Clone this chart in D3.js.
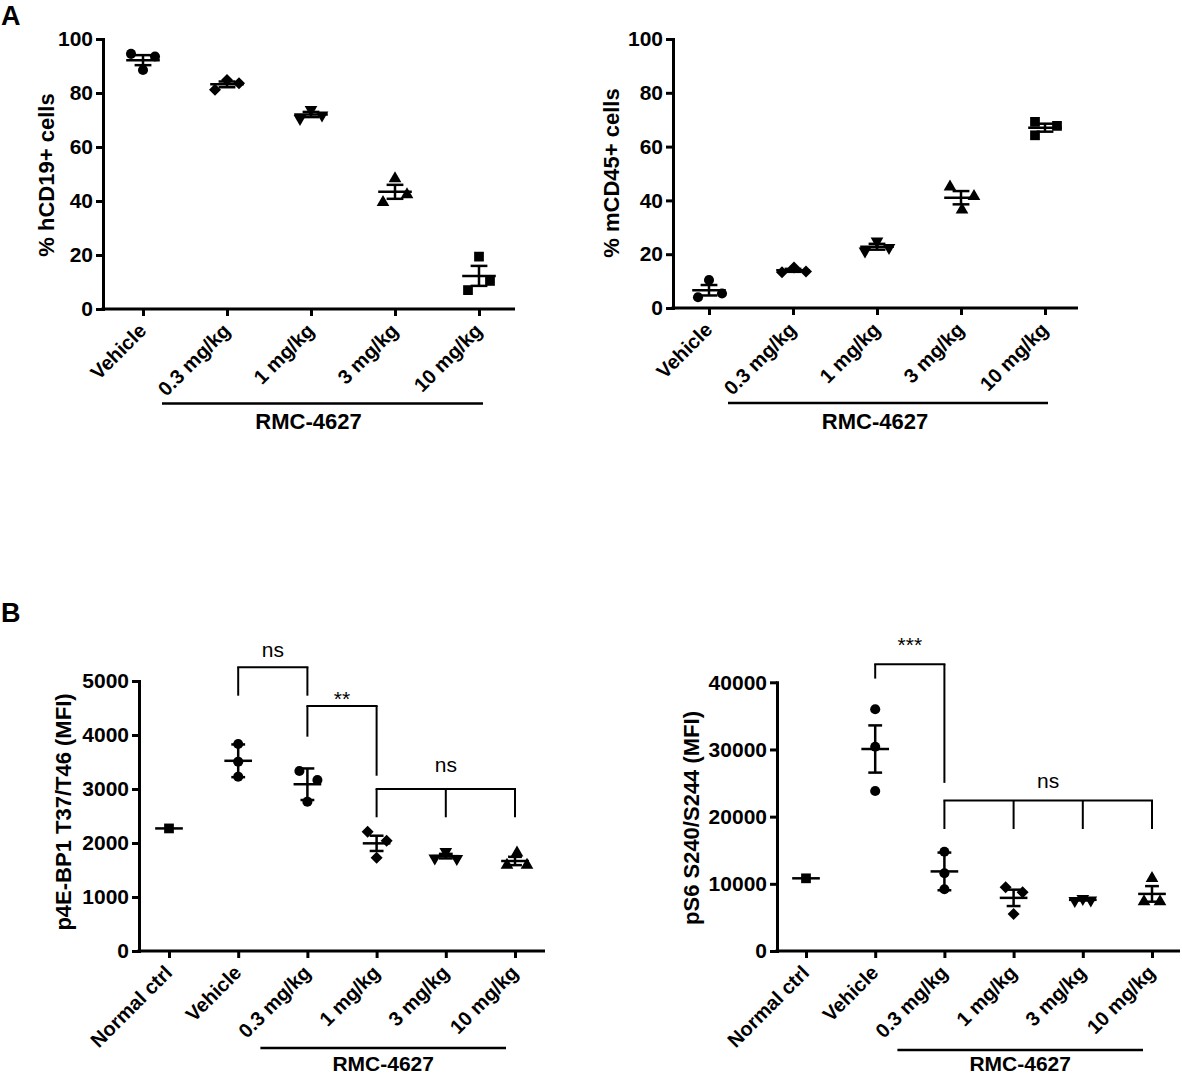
<!DOCTYPE html>
<html>
<head>
<meta charset="utf-8">
<script src="https://cdn.jsdelivr.net/npm/d3@7.9.0/dist/d3.min.js"></script>
<style>
  body { margin: 0; background: #fff; }
  svg { display: block; font-family: "Liberation Sans", Arial, Helvetica, sans-serif; }
</style>
</head>
<body>
<div id="viz"></div>
<script>
// ---- data ----
const groupsA = ["Vehicle", "0.3 mg/kg", "1 mg/kg", "3 mg/kg", "10 mg/kg"];
const groupsB = ["Normal ctrl", "Vehicle", "0.3 mg/kg", "1 mg/kg", "3 mg/kg", "10 mg/kg"];

// % hCD19+ cells, 3 mice per group
const hcd19 = [[94.5, 93.5, 88.5], [81.2, 84.8, 83.6], [70.5, 73.8, 71.8], [48.3, 39.5, 42.4], [19.4, 7.0, 10.4]];
// % mCD45+ cells
const mcd45 = [[10.4, 4.0, 5.4], [13.3, 15.1, 13.6], [24.8, 21.1, 22.4], [45.0, 36.5, 41.5], [69.2, 64.2, 67.7]];
// p4E-BP1 T37/T46 (MFI)
const p4ebp1 = [[2270], [3833, 3506, 3228], [3333, 3167, 2765], [2210, 2043, 1728], [1840, 1720, 1710], [1820, 1590, 1590]];
// pS6 S240/S244 (MFI)
const ps6 = [[10820], [35980, 30410, 23820], [14780, 11570, 9190], [9480, 8740, 5510], [7500, 7800, 7550], [10820, 7340, 7340]];

const ticksA = [0, 20, 40, 60, 80, 100];
const ticksB1 = [0, 1000, 2000, 3000, 4000, 5000];
const ticksB2 = [0, 10000, 20000, 30000, 40000];

// error bar kind per group
const errA = ["sem", "sem", "sem", "sem", "sem"];
const errB1 = ["none", "sd", "sd", "sem", "sem", "sem"];
const errB2 = ["none", "sem", "sd", "sem", "sem", "sem"];

// significance brackets (group indices + heights in data units)
const bracketsB1 = [
  { legs: [1, 2], top: 5254, ends: [4728, 4728], label: "ns", labelY: 5450 },
  { legs: [2, 3], top: 4537, ends: [3969, 3246], label: "**", labelY: 4540 },
  { legs: [3, 4, 5], top: 3000, ends: [2476, 2476, 2476], label: "ns", labelY: 3320 }
];
const bracketsB2 = [
  { legs: [1, 2], top: 42690, ends: [40550, 25030], label: "***", labelY: 44570 },
  { legs: [2, 3, 4, 5], top: 22390, ends: [18160, 18160, 18160, 18160], label: "ns", labelY: 24330 }
];

// ---- layout / style ----
const symbolsA = ["circle", "diamond", "triangleDown", "triangle", "square"];
const symbolsB = ["square", "circle", "circle", "diamond", "triangleDown", "triangle"];

// horizontal spread of overlapping points (px)
const jitterA1 = [[-12, 12, 0], [-12, 0, 12], [-11, 0, 11], [0, -12, 12], [0, -11, 11]];
const jitterA2 = [[0, -11, 13], [-11, 1, 13], [0, -12, 12], [-11, 1, 13], [-10, -10, 12]];
const jitterB1 = [[0], [0, 0, 0], [-8, 10, 0], [-9, 10, 0], [0, -11, 11], [2, -8, 12]];
const jitterB2 = [[0], [0, 0, 0], [0, 0, 0], [-8, 9, 0], [-8, 0, 8], [0, -8, 8]];

const symbolTypes = {
  circle: d3.symbolCircle, square: d3.symbolSquare, diamond: d3.symbolSquare,
  triangle: d3.symbolTriangle, triangleDown: d3.symbolTriangle
};
const symbolSizes = { circle: 80, square: 95, diamond: 72, triangle: 70, triangleDown: 70 };
const symbolRotate = { diamond: 45, triangleDown: 180 };

const svg = d3.select("#viz")
  .append("svg")
  .attr("width", 1182)
  .attr("height", 1077);

svg.append("rect").attr("width", 1182).attr("height", 1077).attr("fill", "#fff");

function errorOf(values, type) {
  if (type === "none" || values.length < 2) return 0;
  const sd = d3.deviation(values);
  return type === "sd" ? sd : sd / Math.sqrt(values.length);
}

function renderPanel(p) {
  const g = svg.append("g");
  const x = d3.scalePoint().domain(p.groups).range([p.firstTick, p.lastTick]);
  const y = d3.scaleLinear().domain([0, p.yMax]).range([p.y0, p.yTop]);
  const step = x.step();

  // y axis
  const yAxis = g.append("g")
    .attr("transform", `translate(${p.axisX},0)`)
    .call(d3.axisLeft(y).tickValues(p.yTicks).tickFormat(d3.format("d"))
      .tickSize(7).tickSizeOuter(0).tickPadding(3));
  yAxis.select(".domain").attr("stroke-width", 3).attr("stroke-linecap", "square");
  yAxis.selectAll(".tick line").attr("stroke-width", 3);
  yAxis.selectAll(".tick text")
    .attr("font-size", 21).attr("font-weight", "bold")
    .attr("font-family", "Liberation Sans, Arial, sans-serif").attr("fill", "#000");

  // x axis
  const xAxis = g.append("g")
    .attr("transform", `translate(0,${p.y0})`)
    .call(d3.axisBottom(x).tickSize(7).tickSizeOuter(0));
  xAxis.select(".domain").remove();
  xAxis.append("line")
    .attr("x1", p.axisX - 1.5).attr("x2", p.xEnd)
    .attr("stroke", "#000").attr("stroke-width", 3);
  xAxis.selectAll(".tick line").attr("stroke-width", 3);
  xAxis.selectAll(".tick text")
    .attr("y", null).attr("dy", null)
    .attr("text-anchor", "end")
    .attr("transform", "translate(4,23) rotate(-45)")
    .attr("font-size", 20).attr("font-weight", "bold")
    .attr("font-family", "Liberation Sans, Arial, sans-serif").attr("fill", "#000");

  // y title
  g.append("text")
    .attr("transform", `translate(${p.titleX},${p.titleY}) rotate(-90)`)
    .attr("text-anchor", "middle")
    .attr("dominant-baseline", "central")
    .attr("font-size", 22).attr("font-weight", "bold")
    .text(p.title);

  // points
  p.values.forEach((vals, i) => {
    const name = p.symbols[i];
    const sym = d3.symbol().type(symbolTypes[name]).size(symbolSizes[name]);
    g.selectAll(null)
      .data(vals)
      .join("path")
      .attr("d", sym)
      .attr("fill", "#000")
      .attr("transform", (d, j) =>
        `translate(${x(p.groups[i]) + p.jitter[i][j]},${y(d)}) rotate(${symbolRotate[name] || 0})`);
  });

  // mean and error bars
  p.values.forEach((vals, i) => {
    const cx = x(p.groups[i]);
    const m = d3.mean(vals);
    const e = errorOf(vals, p.err[i]);
    const bars = g.append("g").attr("stroke", "#000").attr("stroke-width", 2.5);
    bars.append("line")
      .attr("x1", cx - 0.2 * step).attr("x2", cx + 0.2 * step)
      .attr("y1", y(m)).attr("y2", y(m));
    if (e > 0) {
      bars.append("line").attr("x1", cx).attr("x2", cx).attr("y1", y(m - e)).attr("y2", y(m + e));
      [m - e, m + e].forEach(v => {
        bars.append("line")
          .attr("x1", cx - 0.1 * step).attr("x2", cx + 0.1 * step)
          .attr("y1", y(v)).attr("y2", y(v));
      });
    }
  });

  // significance brackets
  (p.brackets || []).forEach(b => {
    const xs = b.legs.map(k => x(p.groups[k]));
    const bg = g.append("g").attr("stroke", "#000").attr("stroke-width", 2).attr("fill", "none");
    bg.append("line")
      .attr("x1", xs[0] - 1).attr("x2", xs[xs.length - 1] + 1)
      .attr("y1", y(b.top)).attr("y2", y(b.top));
    xs.forEach((lx, k) => {
      bg.append("line").attr("x1", lx).attr("x2", lx).attr("y1", y(b.top)).attr("y2", y(b.ends[k]));
    });
    g.append("text")
      .attr("x", (xs[0] + xs[xs.length - 1]) / 2)
      .attr("y", y(b.labelY))
      .attr("text-anchor", "middle")
      .attr("font-size", 21)
      .text(b.label);
  });

  // treatment group underline
  const r = p.rmc;
  const lx1 = x(p.groups[r.from]) - r.padLeft;
  const lx2 = x(p.groups[p.groups.length - 1]) + r.padRight;
  g.append("line")
    .attr("x1", lx1).attr("x2", lx2)
    .attr("y1", r.lineY).attr("y2", r.lineY)
    .attr("stroke", "#000").attr("stroke-width", 2.5);
  g.append("text")
    .attr("x", (lx1 + lx2) / 2 + r.textDx)
    .attr("y", r.textY)
    .attr("text-anchor", "middle")
    .attr("font-size", r.size).attr("font-weight", "bold")
    .text("RMC-4627");
}

renderPanel({
  groups: groupsA, values: hcd19, symbols: symbolsA, jitter: jitterA1, err: errA,
  yMax: 100, yTicks: ticksA, axisX: 103, xEnd: 515, y0: 309, yTop: 39,
  firstTick: 143, lastTick: 479,
  title: "% hCD19+ cells", titleX: 46, titleY: 175,
  rmc: { from: 1, padLeft: 65, padRight: 4, lineY: 403.5, textDx: -14, textY: 429, size: 22 }
});

renderPanel({
  groups: groupsA, values: mcd45, symbols: symbolsA, jitter: jitterA2, err: errA,
  yMax: 100, yTicks: ticksA, axisX: 673, xEnd: 1078, y0: 308, yTop: 39,
  firstTick: 709, lastTick: 1045,
  title: "% mCD45+ cells", titleX: 611, titleY: 173,
  rmc: { from: 1, padLeft: 65, padRight: 3, lineY: 403, textDx: -13, textY: 429, size: 22 }
});

renderPanel({
  groups: groupsB, values: p4ebp1, symbols: symbolsB, jitter: jitterB1, err: errB1,
  yMax: 5000, yTicks: ticksB1, axisX: 139, xEnd: 545, y0: 951, yTop: 681,
  firstTick: 169, lastTick: 515, brackets: bracketsB1,
  title: "p4E-BP1 T37/T46 (MFI)", titleX: 63, titleY: 812,
  rmc: { from: 2, padLeft: 47, padRight: -9, lineY: 1048, textDx: 0, textY: 1071, size: 21 }
});

renderPanel({
  groups: groupsB, values: ps6, symbols: symbolsB, jitter: jitterB2, err: errB2,
  yMax: 40000, yTicks: ticksB2, axisX: 777, xEnd: 1180, y0: 951, yTop: 682.3,
  firstTick: 806, lastTick: 1152, brackets: bracketsB2,
  title: "pS6 S240/S244 (MFI)", titleX: 691, titleY: 818,
  rmc: { from: 2, padLeft: 47, padRight: -9, lineY: 1050, textDx: 0, textY: 1071, size: 21 }
});

// panel letters
svg.append("text").attr("x", 1).attr("y", 25)
  .attr("font-size", 27).attr("font-weight", "bold").text("A");
svg.append("text").attr("x", 1).attr("y", 622)
  .attr("font-size", 27).attr("font-weight", "bold").text("B");
</script>
</body>
</html>
